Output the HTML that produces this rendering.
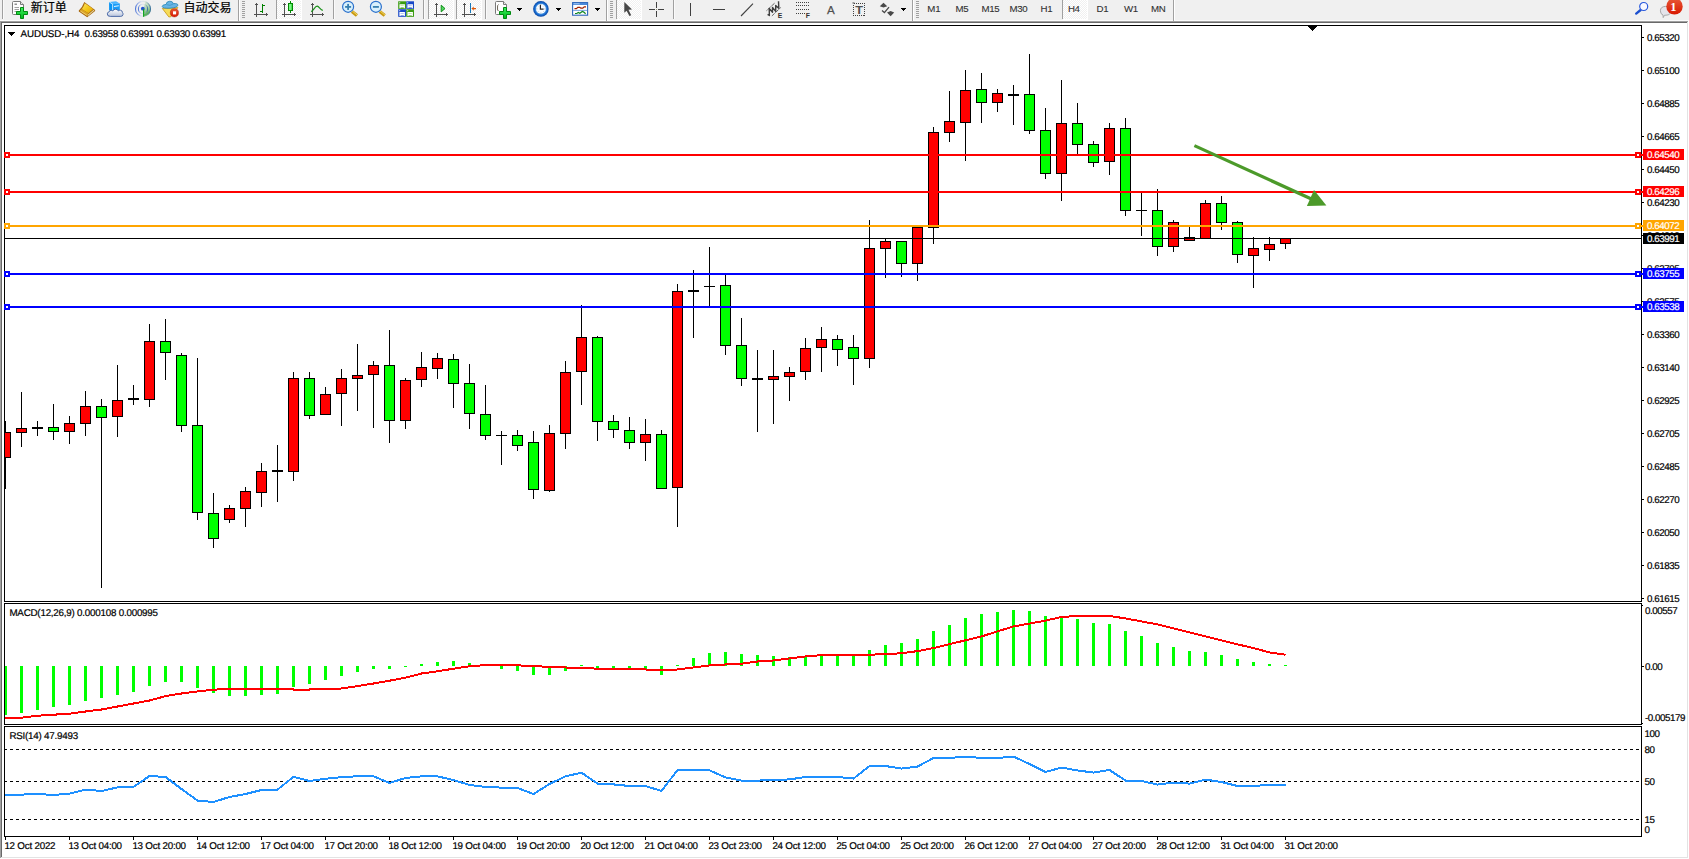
<!DOCTYPE html>
<html lang="zh-CN"><head><meta charset="utf-8"><title>AUDUSD-,H4</title>
<style>html,body{margin:0;padding:0;background:#f0f0f0;overflow:hidden}body{width:1689px;height:859px;position:relative;font-family:"Liberation Sans","Noto Sans CJK SC",sans-serif}svg{position:absolute;left:0;top:0;display:block}.t{font-family:"Liberation Sans",sans-serif;font-size:9.8px;letter-spacing:-0.45px;text-rendering:geometricPrecision;fill:#000;stroke:#000;stroke-width:.2px}.w{fill:#fff;stroke:#fff}.u{letter-spacing:-0.22px}.cj{font-family:"Liberation Sans","Noto Sans CJK SC",sans-serif;font-size:12px;fill:#000;stroke:#000;stroke-width:.2px}.tf{font-family:"Liberation Sans",sans-serif;font-size:9.7px;letter-spacing:-0.3px;fill:#303030;stroke:#303030;stroke-width:.1px}</style></head><body>
<svg width="1689" height="859" viewBox="0 0 1689 859">
<g shape-rendering="crispEdges">
<rect x="0" y="0" width="1689" height="859" fill="#f0f0f0"/>
<rect x="0" y="20" width="1689" height="1" fill="#fbfbfb"/>
<rect x="0" y="21" width="1689" height="1" fill="#a0a0a0"/>
<rect x="1" y="22" width="1688" height="1" fill="#696969"/>
<rect x="0" y="21" width="1" height="838" fill="#a0a0a0"/>
<rect x="1" y="22" width="1" height="836" fill="#696969"/>
<rect x="2" y="23" width="1685" height="834" fill="#ffffff"/>
<rect x="1687" y="22" width="1" height="836" fill="#e3e3e3"/>
<rect x="1" y="857" width="1687" height="1" fill="#e3e3e3"/>
<rect x="1688" y="21" width="1" height="838" fill="#ffffff"/>
<rect x="0" y="858" width="1689" height="1" fill="#ffffff"/>
</g>
<defs><clipPath id="cm"><rect x="5" y="26" width="1636" height="575"/></clipPath><clipPath id="c2"><rect x="5" y="604" width="1636" height="120"/></clipPath><clipPath id="c3"><rect x="5" y="727" width="1636" height="109"/></clipPath></defs>
<g shape-rendering="crispEdges">
<rect x="4" y="25" width="1638" height="1" fill="#000"/>
<rect x="4" y="601" width="1638" height="1" fill="#000"/>
<rect x="4" y="25" width="1" height="577" fill="#000"/>
<rect x="1641" y="25" width="1" height="577" fill="#000"/>
<rect x="4" y="603" width="1638" height="1" fill="#000"/>
<rect x="4" y="724" width="1638" height="1" fill="#000"/>
<rect x="4" y="603" width="1" height="122" fill="#000"/>
<rect x="1641" y="603" width="1" height="122" fill="#000"/>
<rect x="4" y="726" width="1638" height="1" fill="#000"/>
<rect x="4" y="836" width="1638" height="1" fill="#000"/>
<rect x="4" y="726" width="1" height="111" fill="#000"/>
<rect x="1641" y="726" width="1" height="111" fill="#000"/>
</g>
<g shape-rendering="crispEdges" clip-path="url(#cm)">
<rect x="5" y="421" width="1" height="68" fill="#000"/>
<rect x="0" y="432" width="11" height="26" fill="#000"/>
<rect x="1" y="433" width="9" height="24" fill="#ff0000"/>
<rect x="21" y="392" width="1" height="55" fill="#000"/>
<rect x="16" y="428" width="11" height="5" fill="#000"/>
<rect x="17" y="429" width="9" height="3" fill="#ff0000"/>
<rect x="37" y="421" width="1" height="15" fill="#000"/>
<rect x="32" y="427" width="11" height="2" fill="#000"/>
<rect x="53" y="404" width="1" height="36" fill="#000"/>
<rect x="48" y="427" width="11" height="5" fill="#000"/>
<rect x="49" y="428" width="9" height="3" fill="#00ff00"/>
<rect x="69" y="416" width="1" height="28" fill="#000"/>
<rect x="64" y="423" width="11" height="9" fill="#000"/>
<rect x="65" y="424" width="9" height="7" fill="#ff0000"/>
<rect x="85" y="391" width="1" height="45" fill="#000"/>
<rect x="80" y="406" width="11" height="18" fill="#000"/>
<rect x="81" y="407" width="9" height="16" fill="#ff0000"/>
<rect x="101" y="399" width="1" height="189" fill="#000"/>
<rect x="96" y="406" width="11" height="12" fill="#000"/>
<rect x="97" y="407" width="9" height="10" fill="#00ff00"/>
<rect x="117" y="365" width="1" height="72" fill="#000"/>
<rect x="112" y="400" width="11" height="17" fill="#000"/>
<rect x="113" y="401" width="9" height="15" fill="#ff0000"/>
<rect x="133" y="385" width="1" height="20" fill="#000"/>
<rect x="128" y="398" width="11" height="2" fill="#000"/>
<rect x="149" y="324" width="1" height="83" fill="#000"/>
<rect x="144" y="341" width="11" height="59" fill="#000"/>
<rect x="145" y="342" width="9" height="57" fill="#ff0000"/>
<rect x="165" y="319" width="1" height="61" fill="#000"/>
<rect x="160" y="341" width="11" height="12" fill="#000"/>
<rect x="161" y="342" width="9" height="10" fill="#00ff00"/>
<rect x="181" y="353" width="1" height="79" fill="#000"/>
<rect x="176" y="355" width="11" height="71" fill="#000"/>
<rect x="177" y="356" width="9" height="69" fill="#00ff00"/>
<rect x="197" y="358" width="1" height="162" fill="#000"/>
<rect x="192" y="425" width="11" height="88" fill="#000"/>
<rect x="193" y="426" width="9" height="86" fill="#00ff00"/>
<rect x="213" y="493" width="1" height="55" fill="#000"/>
<rect x="208" y="513" width="11" height="26" fill="#000"/>
<rect x="209" y="514" width="9" height="24" fill="#00ff00"/>
<rect x="229" y="505" width="1" height="18" fill="#000"/>
<rect x="224" y="508" width="11" height="12" fill="#000"/>
<rect x="225" y="509" width="9" height="10" fill="#ff0000"/>
<rect x="245" y="487" width="1" height="40" fill="#000"/>
<rect x="240" y="491" width="11" height="18" fill="#000"/>
<rect x="241" y="492" width="9" height="16" fill="#ff0000"/>
<rect x="261" y="463" width="1" height="44" fill="#000"/>
<rect x="256" y="471" width="11" height="22" fill="#000"/>
<rect x="257" y="472" width="9" height="20" fill="#ff0000"/>
<rect x="277" y="445" width="1" height="57" fill="#000"/>
<rect x="272" y="470" width="11" height="2" fill="#000"/>
<rect x="293" y="372" width="1" height="109" fill="#000"/>
<rect x="288" y="378" width="11" height="94" fill="#000"/>
<rect x="289" y="379" width="9" height="92" fill="#ff0000"/>
<rect x="309" y="372" width="1" height="47" fill="#000"/>
<rect x="304" y="378" width="11" height="38" fill="#000"/>
<rect x="305" y="379" width="9" height="36" fill="#00ff00"/>
<rect x="325" y="387" width="1" height="28" fill="#000"/>
<rect x="320" y="394" width="11" height="21" fill="#000"/>
<rect x="321" y="395" width="9" height="19" fill="#ff0000"/>
<rect x="341" y="369" width="1" height="57" fill="#000"/>
<rect x="336" y="378" width="11" height="16" fill="#000"/>
<rect x="337" y="379" width="9" height="14" fill="#ff0000"/>
<rect x="357" y="344" width="1" height="67" fill="#000"/>
<rect x="352" y="375" width="11" height="4" fill="#000"/>
<rect x="353" y="376" width="9" height="2" fill="#ff0000"/>
<rect x="373" y="361" width="1" height="67" fill="#000"/>
<rect x="368" y="365" width="11" height="10" fill="#000"/>
<rect x="369" y="366" width="9" height="8" fill="#ff0000"/>
<rect x="389" y="330" width="1" height="113" fill="#000"/>
<rect x="384" y="365" width="11" height="56" fill="#000"/>
<rect x="385" y="366" width="9" height="54" fill="#00ff00"/>
<rect x="405" y="378" width="1" height="51" fill="#000"/>
<rect x="400" y="380" width="11" height="41" fill="#000"/>
<rect x="401" y="381" width="9" height="39" fill="#ff0000"/>
<rect x="421" y="352" width="1" height="35" fill="#000"/>
<rect x="416" y="367" width="11" height="13" fill="#000"/>
<rect x="417" y="368" width="9" height="11" fill="#ff0000"/>
<rect x="437" y="353" width="1" height="26" fill="#000"/>
<rect x="432" y="358" width="11" height="11" fill="#000"/>
<rect x="433" y="359" width="9" height="9" fill="#ff0000"/>
<rect x="453" y="354" width="1" height="54" fill="#000"/>
<rect x="448" y="359" width="11" height="25" fill="#000"/>
<rect x="449" y="360" width="9" height="23" fill="#00ff00"/>
<rect x="469" y="364" width="1" height="65" fill="#000"/>
<rect x="464" y="383" width="11" height="31" fill="#000"/>
<rect x="465" y="384" width="9" height="29" fill="#00ff00"/>
<rect x="485" y="385" width="1" height="55" fill="#000"/>
<rect x="480" y="414" width="11" height="22" fill="#000"/>
<rect x="481" y="415" width="9" height="20" fill="#00ff00"/>
<rect x="501" y="431" width="1" height="34" fill="#000"/>
<rect x="496" y="435" width="11" height="1" fill="#000"/>
<rect x="517" y="430" width="1" height="21" fill="#000"/>
<rect x="512" y="435" width="11" height="11" fill="#000"/>
<rect x="513" y="436" width="9" height="9" fill="#00ff00"/>
<rect x="533" y="431" width="1" height="68" fill="#000"/>
<rect x="528" y="442" width="11" height="48" fill="#000"/>
<rect x="529" y="443" width="9" height="46" fill="#00ff00"/>
<rect x="549" y="425" width="1" height="67" fill="#000"/>
<rect x="544" y="433" width="11" height="58" fill="#000"/>
<rect x="545" y="434" width="9" height="56" fill="#ff0000"/>
<rect x="565" y="361" width="1" height="88" fill="#000"/>
<rect x="560" y="372" width="11" height="62" fill="#000"/>
<rect x="561" y="373" width="9" height="60" fill="#ff0000"/>
<rect x="581" y="305" width="1" height="100" fill="#000"/>
<rect x="576" y="337" width="11" height="35" fill="#000"/>
<rect x="577" y="338" width="9" height="33" fill="#ff0000"/>
<rect x="597" y="336" width="1" height="105" fill="#000"/>
<rect x="592" y="337" width="11" height="85" fill="#000"/>
<rect x="593" y="338" width="9" height="83" fill="#00ff00"/>
<rect x="613" y="415" width="1" height="23" fill="#000"/>
<rect x="608" y="421" width="11" height="9" fill="#000"/>
<rect x="609" y="422" width="9" height="7" fill="#00ff00"/>
<rect x="629" y="417" width="1" height="32" fill="#000"/>
<rect x="624" y="430" width="11" height="13" fill="#000"/>
<rect x="625" y="431" width="9" height="11" fill="#00ff00"/>
<rect x="645" y="419" width="1" height="42" fill="#000"/>
<rect x="640" y="434" width="11" height="9" fill="#000"/>
<rect x="641" y="435" width="9" height="7" fill="#ff0000"/>
<rect x="661" y="430" width="1" height="59" fill="#000"/>
<rect x="656" y="434" width="11" height="55" fill="#000"/>
<rect x="657" y="435" width="9" height="53" fill="#00ff00"/>
<rect x="677" y="284" width="1" height="243" fill="#000"/>
<rect x="672" y="291" width="11" height="197" fill="#000"/>
<rect x="673" y="292" width="9" height="195" fill="#ff0000"/>
<rect x="693" y="270" width="1" height="68" fill="#000"/>
<rect x="688" y="290" width="11" height="2" fill="#000"/>
<rect x="709" y="247" width="1" height="60" fill="#000"/>
<rect x="704" y="286" width="11" height="1" fill="#000"/>
<rect x="725" y="275" width="1" height="80" fill="#000"/>
<rect x="720" y="285" width="11" height="61" fill="#000"/>
<rect x="721" y="286" width="9" height="59" fill="#00ff00"/>
<rect x="741" y="318" width="1" height="68" fill="#000"/>
<rect x="736" y="345" width="11" height="34" fill="#000"/>
<rect x="737" y="346" width="9" height="32" fill="#00ff00"/>
<rect x="757" y="350" width="1" height="82" fill="#000"/>
<rect x="752" y="378" width="11" height="2" fill="#000"/>
<rect x="773" y="350" width="1" height="74" fill="#000"/>
<rect x="768" y="376" width="11" height="4" fill="#000"/>
<rect x="769" y="377" width="9" height="2" fill="#ff0000"/>
<rect x="789" y="367" width="1" height="34" fill="#000"/>
<rect x="784" y="372" width="11" height="5" fill="#000"/>
<rect x="785" y="373" width="9" height="3" fill="#ff0000"/>
<rect x="805" y="338" width="1" height="42" fill="#000"/>
<rect x="800" y="348" width="11" height="24" fill="#000"/>
<rect x="801" y="349" width="9" height="22" fill="#ff0000"/>
<rect x="821" y="327" width="1" height="45" fill="#000"/>
<rect x="816" y="339" width="11" height="9" fill="#000"/>
<rect x="817" y="340" width="9" height="7" fill="#ff0000"/>
<rect x="837" y="335" width="1" height="31" fill="#000"/>
<rect x="832" y="339" width="11" height="11" fill="#000"/>
<rect x="833" y="340" width="9" height="9" fill="#00ff00"/>
<rect x="853" y="335" width="1" height="50" fill="#000"/>
<rect x="848" y="347" width="11" height="12" fill="#000"/>
<rect x="849" y="348" width="9" height="10" fill="#00ff00"/>
<rect x="869" y="220" width="1" height="148" fill="#000"/>
<rect x="864" y="248" width="11" height="111" fill="#000"/>
<rect x="865" y="249" width="9" height="109" fill="#ff0000"/>
<rect x="885" y="238" width="1" height="40" fill="#000"/>
<rect x="880" y="241" width="11" height="8" fill="#000"/>
<rect x="881" y="242" width="9" height="6" fill="#ff0000"/>
<rect x="901" y="241" width="1" height="36" fill="#000"/>
<rect x="896" y="241" width="11" height="23" fill="#000"/>
<rect x="897" y="242" width="9" height="21" fill="#00ff00"/>
<rect x="917" y="227" width="1" height="54" fill="#000"/>
<rect x="912" y="227" width="11" height="37" fill="#000"/>
<rect x="913" y="228" width="9" height="35" fill="#ff0000"/>
<rect x="933" y="127" width="1" height="117" fill="#000"/>
<rect x="928" y="132" width="11" height="96" fill="#000"/>
<rect x="929" y="133" width="9" height="94" fill="#ff0000"/>
<rect x="949" y="91" width="1" height="51" fill="#000"/>
<rect x="944" y="121" width="11" height="12" fill="#000"/>
<rect x="945" y="122" width="9" height="10" fill="#ff0000"/>
<rect x="965" y="70" width="1" height="91" fill="#000"/>
<rect x="960" y="90" width="11" height="33" fill="#000"/>
<rect x="961" y="91" width="9" height="31" fill="#ff0000"/>
<rect x="981" y="73" width="1" height="50" fill="#000"/>
<rect x="976" y="89" width="11" height="14" fill="#000"/>
<rect x="977" y="90" width="9" height="12" fill="#00ff00"/>
<rect x="997" y="89" width="1" height="23" fill="#000"/>
<rect x="992" y="93" width="11" height="10" fill="#000"/>
<rect x="993" y="94" width="9" height="8" fill="#ff0000"/>
<rect x="1013" y="85" width="1" height="40" fill="#000"/>
<rect x="1008" y="94" width="11" height="2" fill="#000"/>
<rect x="1029" y="54" width="1" height="80" fill="#000"/>
<rect x="1024" y="94" width="11" height="37" fill="#000"/>
<rect x="1025" y="95" width="9" height="35" fill="#00ff00"/>
<rect x="1045" y="108" width="1" height="71" fill="#000"/>
<rect x="1040" y="130" width="11" height="44" fill="#000"/>
<rect x="1041" y="131" width="9" height="42" fill="#00ff00"/>
<rect x="1061" y="80" width="1" height="121" fill="#000"/>
<rect x="1056" y="123" width="11" height="51" fill="#000"/>
<rect x="1057" y="124" width="9" height="49" fill="#ff0000"/>
<rect x="1077" y="103" width="1" height="51" fill="#000"/>
<rect x="1072" y="123" width="11" height="22" fill="#000"/>
<rect x="1073" y="124" width="9" height="20" fill="#00ff00"/>
<rect x="1093" y="141" width="1" height="26" fill="#000"/>
<rect x="1088" y="144" width="11" height="19" fill="#000"/>
<rect x="1089" y="145" width="9" height="17" fill="#00ff00"/>
<rect x="1109" y="123" width="1" height="52" fill="#000"/>
<rect x="1104" y="128" width="11" height="34" fill="#000"/>
<rect x="1105" y="129" width="9" height="32" fill="#ff0000"/>
<rect x="1125" y="118" width="1" height="98" fill="#000"/>
<rect x="1120" y="128" width="11" height="83" fill="#000"/>
<rect x="1121" y="129" width="9" height="81" fill="#00ff00"/>
<rect x="1141" y="193" width="1" height="43" fill="#000"/>
<rect x="1136" y="210" width="11" height="1" fill="#000"/>
<rect x="1157" y="189" width="1" height="67" fill="#000"/>
<rect x="1152" y="210" width="11" height="37" fill="#000"/>
<rect x="1153" y="211" width="9" height="35" fill="#00ff00"/>
<rect x="1173" y="220" width="1" height="32" fill="#000"/>
<rect x="1168" y="222" width="11" height="25" fill="#000"/>
<rect x="1169" y="223" width="9" height="23" fill="#ff0000"/>
<rect x="1189" y="227" width="1" height="14" fill="#000"/>
<rect x="1184" y="237" width="11" height="4" fill="#000"/>
<rect x="1185" y="238" width="9" height="2" fill="#ff0000"/>
<rect x="1205" y="200" width="1" height="39" fill="#000"/>
<rect x="1200" y="203" width="11" height="36" fill="#000"/>
<rect x="1201" y="204" width="9" height="34" fill="#ff0000"/>
<rect x="1221" y="196" width="1" height="34" fill="#000"/>
<rect x="1216" y="203" width="11" height="20" fill="#000"/>
<rect x="1217" y="204" width="9" height="18" fill="#00ff00"/>
<rect x="1237" y="221" width="1" height="42" fill="#000"/>
<rect x="1232" y="222" width="11" height="33" fill="#000"/>
<rect x="1233" y="223" width="9" height="31" fill="#00ff00"/>
<rect x="1253" y="237" width="1" height="51" fill="#000"/>
<rect x="1248" y="248" width="11" height="8" fill="#000"/>
<rect x="1249" y="249" width="9" height="6" fill="#ff0000"/>
<rect x="1269" y="237" width="1" height="24" fill="#000"/>
<rect x="1264" y="244" width="11" height="6" fill="#000"/>
<rect x="1265" y="245" width="9" height="4" fill="#ff0000"/>
<rect x="1285" y="238" width="1" height="11" fill="#000"/>
<rect x="1280" y="238" width="11" height="6" fill="#000"/>
<rect x="1281" y="239" width="9" height="4" fill="#ff0000"/>
<rect x="5" y="238" width="1636" height="1" fill="#000"/>
<rect x="5" y="154" width="1636" height="2" fill="#ff0000"/>
<rect x="5" y="191" width="1636" height="2" fill="#ff0000"/>
<rect x="5" y="225" width="1636" height="2" fill="#ffa500"/>
<rect x="5" y="273" width="1636" height="2" fill="#0000ff"/>
<rect x="5" y="306" width="1636" height="2" fill="#0000ff"/>
</g>
<g shape-rendering="crispEdges">
<rect x="1641" y="154" width="2" height="2" fill="#ff0000"/>
<rect x="4" y="152" width="6" height="6" fill="#ff0000"/>
<rect x="6" y="154" width="2" height="2" fill="#fff"/>
<rect x="1635" y="152" width="6" height="6" fill="#ff0000"/>
<rect x="1637" y="154" width="2" height="2" fill="#fff"/>
<rect x="1641" y="191" width="2" height="2" fill="#ff0000"/>
<rect x="4" y="189" width="6" height="6" fill="#ff0000"/>
<rect x="6" y="191" width="2" height="2" fill="#fff"/>
<rect x="1635" y="189" width="6" height="6" fill="#ff0000"/>
<rect x="1637" y="191" width="2" height="2" fill="#fff"/>
<rect x="1641" y="225" width="2" height="2" fill="#ffa500"/>
<rect x="4" y="223" width="6" height="6" fill="#ffa500"/>
<rect x="6" y="225" width="2" height="2" fill="#fff"/>
<rect x="1635" y="223" width="6" height="6" fill="#ffa500"/>
<rect x="1637" y="225" width="2" height="2" fill="#fff"/>
<rect x="1641" y="273" width="2" height="2" fill="#0000ff"/>
<rect x="4" y="271" width="6" height="6" fill="#0000ff"/>
<rect x="6" y="273" width="2" height="2" fill="#fff"/>
<rect x="1635" y="271" width="6" height="6" fill="#0000ff"/>
<rect x="1637" y="273" width="2" height="2" fill="#fff"/>
<rect x="1641" y="306" width="2" height="2" fill="#0000ff"/>
<rect x="4" y="304" width="6" height="6" fill="#0000ff"/>
<rect x="6" y="306" width="2" height="2" fill="#fff"/>
<rect x="1635" y="304" width="6" height="6" fill="#0000ff"/>
<rect x="1637" y="306" width="2" height="2" fill="#fff"/>
</g>
<g shape-rendering="crispEdges">
<rect x="1308" y="26" width="9" height="1" fill="#000"/>
<rect x="1309" y="27" width="7" height="1" fill="#000"/>
<rect x="1310" y="28" width="5" height="1" fill="#000"/>
<rect x="1311" y="29" width="3" height="1" fill="#000"/>
<rect x="1312" y="30" width="1" height="1" fill="#000"/>
</g>
<line x1="1194.4" y1="145.6" x2="1312" y2="199.3" stroke="#4c9a2a" stroke-width="3.2"/>
<polygon points="1314,190 1326.4,205.5 1306.9,206" fill="#4c9a2a"/>
<g shape-rendering="crispEdges">
<rect x="1642" y="37" width="2" height="1" fill="#000"/>
<rect x="1642" y="70" width="2" height="1" fill="#000"/>
<rect x="1642" y="103" width="2" height="1" fill="#000"/>
<rect x="1642" y="136" width="2" height="1" fill="#000"/>
<rect x="1642" y="169" width="2" height="1" fill="#000"/>
<rect x="1642" y="202" width="2" height="1" fill="#000"/>
<rect x="1642" y="235" width="2" height="1" fill="#000"/>
<rect x="1642" y="268" width="2" height="1" fill="#000"/>
<rect x="1642" y="301" width="2" height="1" fill="#000"/>
<rect x="1642" y="334" width="2" height="1" fill="#000"/>
<rect x="1642" y="367" width="2" height="1" fill="#000"/>
<rect x="1642" y="400" width="2" height="1" fill="#000"/>
<rect x="1642" y="433" width="2" height="1" fill="#000"/>
<rect x="1642" y="466" width="2" height="1" fill="#000"/>
<rect x="1642" y="499" width="2" height="1" fill="#000"/>
<rect x="1642" y="532" width="2" height="1" fill="#000"/>
<rect x="1642" y="565" width="2" height="1" fill="#000"/>
<rect x="1642" y="598" width="2" height="1" fill="#000"/>
</g>
<text class="t" x="1647" y="41">0.65320</text>
<text class="t" x="1647" y="74">0.65100</text>
<text class="t" x="1647" y="107">0.64885</text>
<text class="t" x="1647" y="140">0.64665</text>
<text class="t" x="1647" y="173">0.64450</text>
<text class="t" x="1647" y="206">0.64230</text>
<text class="t" x="1647" y="239">0.64010</text>
<text class="t" x="1647" y="272">0.63795</text>
<text class="t" x="1647" y="305">0.63575</text>
<text class="t" x="1647" y="338">0.63360</text>
<text class="t" x="1647" y="371">0.63140</text>
<text class="t" x="1647" y="404">0.62925</text>
<text class="t" x="1647" y="437">0.62705</text>
<text class="t" x="1647" y="470">0.62485</text>
<text class="t" x="1647" y="503">0.62270</text>
<text class="t" x="1647" y="536">0.62050</text>
<text class="t" x="1647" y="569">0.61835</text>
<text class="t" x="1647" y="602">0.61615</text>
<g shape-rendering="crispEdges">
<rect x="1643" y="149" width="41" height="11" fill="#ff0000"/>
<rect x="1643" y="186" width="41" height="11" fill="#ff0000"/>
<rect x="1643" y="220" width="41" height="11" fill="#ffa500"/>
<rect x="1643" y="268" width="41" height="11" fill="#0000ff"/>
<rect x="1643" y="301" width="41" height="11" fill="#0000ff"/>
<rect x="1643" y="233" width="41" height="11" fill="#000000"/>
</g>
<text class="t w" x="1647" y="158">0.64540</text>
<text class="t w" x="1647" y="195">0.64296</text>
<text class="t w" x="1647" y="229">0.64072</text>
<text class="t w" x="1647" y="277">0.63755</text>
<text class="t w" x="1647" y="310">0.63538</text>
<text class="t w" x="1647" y="242">0.63991</text>
<g shape-rendering="crispEdges">
<rect x="8" y="32" width="7" height="1" fill="#000"/>
<rect x="9" y="33" width="5" height="1" fill="#000"/>
<rect x="10" y="34" width="3" height="1" fill="#000"/>
<rect x="11" y="35" width="1" height="1" fill="#000"/>
</g>
<text class="t u" x="20.5" y="37" textLength="58.8" lengthAdjust="spacing">AUDUSD-,H4</text>
<text class="t u" x="84.6" y="37" textLength="141.4" lengthAdjust="spacing">0.63958 0.63991 0.63930 0.63991</text>
<g shape-rendering="crispEdges" clip-path="url(#c2)">
<rect x="4" y="666" width="3" height="49" fill="#00ff00"/>
<rect x="20" y="666" width="3" height="47" fill="#00ff00"/>
<rect x="36" y="666" width="3" height="44" fill="#00ff00"/>
<rect x="52" y="666" width="3" height="41" fill="#00ff00"/>
<rect x="68" y="666" width="3" height="39" fill="#00ff00"/>
<rect x="84" y="666" width="3" height="35" fill="#00ff00"/>
<rect x="100" y="666" width="3" height="32" fill="#00ff00"/>
<rect x="116" y="666" width="3" height="29" fill="#00ff00"/>
<rect x="132" y="666" width="3" height="26" fill="#00ff00"/>
<rect x="148" y="666" width="3" height="20" fill="#00ff00"/>
<rect x="164" y="666" width="3" height="16" fill="#00ff00"/>
<rect x="180" y="666" width="3" height="16" fill="#00ff00"/>
<rect x="196" y="666" width="3" height="22" fill="#00ff00"/>
<rect x="212" y="666" width="3" height="27" fill="#00ff00"/>
<rect x="228" y="666" width="3" height="30" fill="#00ff00"/>
<rect x="244" y="666" width="3" height="30" fill="#00ff00"/>
<rect x="260" y="666" width="3" height="29" fill="#00ff00"/>
<rect x="276" y="666" width="3" height="28" fill="#00ff00"/>
<rect x="292" y="666" width="3" height="21" fill="#00ff00"/>
<rect x="308" y="666" width="3" height="18" fill="#00ff00"/>
<rect x="324" y="666" width="3" height="14" fill="#00ff00"/>
<rect x="340" y="666" width="3" height="10" fill="#00ff00"/>
<rect x="356" y="666" width="3" height="6" fill="#00ff00"/>
<rect x="372" y="666" width="3" height="3" fill="#00ff00"/>
<rect x="388" y="666" width="3" height="3" fill="#00ff00"/>
<rect x="404" y="666" width="3" height="1" fill="#00ff00"/>
<rect x="420" y="664" width="3" height="2" fill="#00ff00"/>
<rect x="436" y="662" width="3" height="4" fill="#00ff00"/>
<rect x="452" y="661" width="3" height="5" fill="#00ff00"/>
<rect x="468" y="663" width="3" height="3" fill="#00ff00"/>
<rect x="484" y="665" width="3" height="1" fill="#00ff00"/>
<rect x="500" y="666" width="3" height="3" fill="#00ff00"/>
<rect x="516" y="666" width="3" height="5" fill="#00ff00"/>
<rect x="532" y="666" width="3" height="9" fill="#00ff00"/>
<rect x="548" y="666" width="3" height="9" fill="#00ff00"/>
<rect x="564" y="666" width="3" height="5" fill="#00ff00"/>
<rect x="580" y="665" width="3" height="1" fill="#00ff00"/>
<rect x="596" y="666" width="3" height="2" fill="#00ff00"/>
<rect x="612" y="666" width="3" height="3" fill="#00ff00"/>
<rect x="628" y="666" width="3" height="3" fill="#00ff00"/>
<rect x="644" y="666" width="3" height="4" fill="#00ff00"/>
<rect x="660" y="666" width="3" height="9" fill="#00ff00"/>
<rect x="676" y="665" width="3" height="1" fill="#00ff00"/>
<rect x="692" y="658" width="3" height="8" fill="#00ff00"/>
<rect x="708" y="653" width="3" height="13" fill="#00ff00"/>
<rect x="724" y="652" width="3" height="14" fill="#00ff00"/>
<rect x="740" y="654" width="3" height="12" fill="#00ff00"/>
<rect x="756" y="655" width="3" height="11" fill="#00ff00"/>
<rect x="772" y="656" width="3" height="10" fill="#00ff00"/>
<rect x="788" y="657" width="3" height="9" fill="#00ff00"/>
<rect x="804" y="657" width="3" height="9" fill="#00ff00"/>
<rect x="820" y="656" width="3" height="10" fill="#00ff00"/>
<rect x="836" y="655" width="3" height="11" fill="#00ff00"/>
<rect x="852" y="655" width="3" height="11" fill="#00ff00"/>
<rect x="868" y="650" width="3" height="16" fill="#00ff00"/>
<rect x="884" y="645" width="3" height="21" fill="#00ff00"/>
<rect x="900" y="643" width="3" height="23" fill="#00ff00"/>
<rect x="916" y="639" width="3" height="27" fill="#00ff00"/>
<rect x="932" y="631" width="3" height="35" fill="#00ff00"/>
<rect x="948" y="625" width="3" height="41" fill="#00ff00"/>
<rect x="964" y="618" width="3" height="48" fill="#00ff00"/>
<rect x="980" y="614" width="3" height="52" fill="#00ff00"/>
<rect x="996" y="612" width="3" height="54" fill="#00ff00"/>
<rect x="1012" y="610" width="3" height="56" fill="#00ff00"/>
<rect x="1028" y="611" width="3" height="55" fill="#00ff00"/>
<rect x="1044" y="616" width="3" height="50" fill="#00ff00"/>
<rect x="1060" y="618" width="3" height="48" fill="#00ff00"/>
<rect x="1076" y="619" width="3" height="47" fill="#00ff00"/>
<rect x="1092" y="623" width="3" height="43" fill="#00ff00"/>
<rect x="1108" y="624" width="3" height="42" fill="#00ff00"/>
<rect x="1124" y="631" width="3" height="35" fill="#00ff00"/>
<rect x="1140" y="636" width="3" height="30" fill="#00ff00"/>
<rect x="1156" y="643" width="3" height="23" fill="#00ff00"/>
<rect x="1172" y="647" width="3" height="19" fill="#00ff00"/>
<rect x="1188" y="651" width="3" height="15" fill="#00ff00"/>
<rect x="1204" y="652" width="3" height="14" fill="#00ff00"/>
<rect x="1220" y="655" width="3" height="11" fill="#00ff00"/>
<rect x="1236" y="659" width="3" height="7" fill="#00ff00"/>
<rect x="1252" y="662" width="3" height="4" fill="#00ff00"/>
<rect x="1268" y="664" width="3" height="2" fill="#00ff00"/>
<rect x="1284" y="665" width="3" height="1" fill="#00ff00"/>
<polyline points="5.5,717.8 21.5,717.7 37.5,715.7 53.5,714.7 69.5,713.7 85.5,711.5 101.5,709.5 117.5,706.5 133.5,703.5 149.5,700.5 165.5,696.1 181.5,693.5 197.5,691.5 213.5,689.7 229.5,688.9 245.5,688.9 261.5,688.9 277.5,688.9 293.5,689.5 309.5,689.5 325.5,689.0 341.5,688.5 357.5,686.1 373.5,683.5 389.5,680.7 405.5,677.7 421.5,673.5 437.5,671.3 453.5,668.7 469.5,666.3 485.5,665.1 501.5,664.9 517.5,665.3 533.5,666.3 549.5,666.7 565.5,667.5 581.5,667.9 597.5,668.7 613.5,668.7 629.5,668.7 645.5,669.5 661.5,669.9 677.5,669.5 693.5,667.5 709.5,665.5 725.5,664.5 741.5,663.7 757.5,661.5 773.5,660.5 789.5,658.5 805.5,656.5 821.5,655.1 837.5,654.7 853.5,654.7 869.5,654.7 885.5,654.1 901.5,653.3 917.5,651.1 933.5,648.1 949.5,644.1 965.5,640.3 981.5,636.4 997.5,631.4 1013.5,626.4 1029.5,623.6 1045.5,620.6 1061.5,617.0 1077.5,616.0 1093.5,615.6 1109.5,616.0 1125.5,618.4 1141.5,621.4 1157.5,624.4 1173.5,628.4 1189.5,632.4 1205.5,636.4 1221.5,640.4 1237.5,644.4 1253.5,648.0 1269.5,652.4 1285.5,654.7" fill="none" stroke="#ff0000" stroke-width="2"/>
</g>
<text class="t u" x="9.4" y="616">MACD(12,26,9) 0.000108 0.000995</text>
<g shape-rendering="crispEdges">
<rect x="1642" y="605" width="1" height="1" fill="#000"/>
<rect x="1642" y="666" width="2" height="1" fill="#000"/>
<rect x="1642" y="723" width="1" height="1" fill="#000"/>
</g>
<text class="t" x="1645" y="614">0.00557</text>
<text class="t" x="1645" y="670">0.00</text>
<text class="t" x="1645" y="721">-0.005179</text>
<g shape-rendering="crispEdges" clip-path="url(#c3)">
<line x1="5" y1="749.5" x2="1641" y2="749.5" stroke="#000" stroke-width="1" stroke-dasharray="3,3" stroke-dashoffset="1"/>
<line x1="5" y1="781.5" x2="1641" y2="781.5" stroke="#000" stroke-width="1" stroke-dasharray="3,3" stroke-dashoffset="1"/>
<line x1="5" y1="819.5" x2="1641" y2="819.5" stroke="#000" stroke-width="1" stroke-dasharray="3,3" stroke-dashoffset="1"/>
<polyline points="5.5,795.0 21.5,794.6 37.5,794.0 53.5,795.0 69.5,793.6 85.5,789.6 101.5,791.0 117.5,787.4 133.5,786.8 149.5,776.0 165.5,777.0 181.5,789.0 197.5,800.6 213.5,802.0 229.5,797.0 245.5,794.0 261.5,790.0 277.5,789.6 293.5,776.8 309.5,781.0 325.5,778.8 341.5,777.2 357.5,776.2 373.5,776.2 389.5,783.0 405.5,778.0 421.5,776.4 437.5,776.4 453.5,780.0 469.5,785.0 485.5,787.0 501.5,787.6 517.5,788.0 533.5,794.0 549.5,784.0 565.5,776.4 581.5,772.6 597.5,783.6 613.5,784.4 629.5,786.0 645.5,786.0 661.5,791.0 677.5,770.0 693.5,770.0 709.5,770.4 725.5,777.4 741.5,780.6 757.5,780.6 773.5,780.0 789.5,779.4 805.5,777.0 821.5,777.0 837.5,777.0 853.5,778.6 869.5,766.0 885.5,766.0 901.5,768.6 917.5,766.6 933.5,758.0 949.5,758.0 965.5,756.6 981.5,758.0 997.5,758.0 1013.5,756.6 1029.5,764.0 1045.5,772.0 1061.5,767.6 1077.5,770.4 1093.5,772.6 1109.5,770.0 1125.5,780.6 1141.5,781.0 1157.5,784.6 1173.5,782.6 1189.5,783.6 1205.5,779.6 1221.5,782.0 1237.5,786.0 1253.5,786.0 1269.5,784.8 1285.5,784.8" fill="none" stroke="#1e90ff" stroke-width="2"/>
</g>
<text class="t u" x="9.4" y="739">RSI(14) 47.9493</text>
<text class="t" x="1644.5" y="737">100</text>
<text class="t" x="1644.5" y="753">80</text>
<text class="t" x="1644.5" y="785">50</text>
<text class="t" x="1644.5" y="823">15</text>
<text class="t" x="1644.5" y="833">0</text>
<g shape-rendering="crispEdges">
<rect x="5" y="837" width="1" height="3" fill="#000"/>
<rect x="69" y="837" width="1" height="3" fill="#000"/>
<rect x="133" y="837" width="1" height="3" fill="#000"/>
<rect x="197" y="837" width="1" height="3" fill="#000"/>
<rect x="261" y="837" width="1" height="3" fill="#000"/>
<rect x="325" y="837" width="1" height="3" fill="#000"/>
<rect x="389" y="837" width="1" height="3" fill="#000"/>
<rect x="453" y="837" width="1" height="3" fill="#000"/>
<rect x="517" y="837" width="1" height="3" fill="#000"/>
<rect x="581" y="837" width="1" height="3" fill="#000"/>
<rect x="645" y="837" width="1" height="3" fill="#000"/>
<rect x="709" y="837" width="1" height="3" fill="#000"/>
<rect x="773" y="837" width="1" height="3" fill="#000"/>
<rect x="837" y="837" width="1" height="3" fill="#000"/>
<rect x="901" y="837" width="1" height="3" fill="#000"/>
<rect x="965" y="837" width="1" height="3" fill="#000"/>
<rect x="1029" y="837" width="1" height="3" fill="#000"/>
<rect x="1093" y="837" width="1" height="3" fill="#000"/>
<rect x="1157" y="837" width="1" height="3" fill="#000"/>
<rect x="1221" y="837" width="1" height="3" fill="#000"/>
<rect x="1285" y="837" width="1" height="3" fill="#000"/>
</g>
<text class="t u" x="4.4" y="849">12 Oct 2022</text>
<text class="t u" x="68.4" y="849">13 Oct 04:00</text>
<text class="t u" x="132.4" y="849">13 Oct 20:00</text>
<text class="t u" x="196.4" y="849">14 Oct 12:00</text>
<text class="t u" x="260.4" y="849">17 Oct 04:00</text>
<text class="t u" x="324.4" y="849">17 Oct 20:00</text>
<text class="t u" x="388.4" y="849">18 Oct 12:00</text>
<text class="t u" x="452.4" y="849">19 Oct 04:00</text>
<text class="t u" x="516.4" y="849">19 Oct 20:00</text>
<text class="t u" x="580.4" y="849">20 Oct 12:00</text>
<text class="t u" x="644.4" y="849">21 Oct 04:00</text>
<text class="t u" x="708.4" y="849">23 Oct 23:00</text>
<text class="t u" x="772.4" y="849">24 Oct 12:00</text>
<text class="t u" x="836.4" y="849">25 Oct 04:00</text>
<text class="t u" x="900.4" y="849">25 Oct 20:00</text>
<text class="t u" x="964.4" y="849">26 Oct 12:00</text>
<text class="t u" x="1028.4" y="849">27 Oct 04:00</text>
<text class="t u" x="1092.4" y="849">27 Oct 20:00</text>
<text class="t u" x="1156.4" y="849">28 Oct 12:00</text>
<text class="t u" x="1220.4" y="849">31 Oct 04:00</text>
<text class="t u" x="1284.4" y="849">31 Oct 20:00</text>
<defs><pattern id="chk" width="2" height="2" patternUnits="userSpaceOnUse"><rect width="2" height="2" fill="#f0f0f0"/><rect width="1" height="1" fill="#fff"/><rect x="1" y="1" width="1" height="1" fill="#fff"/></pattern><linearGradient id="gpl" x1="0" y1="0" x2="0" y2="1"><stop offset="0" stop-color="#3cf060"/><stop offset="1" stop-color="#00b818"/></linearGradient><linearGradient id="gbk" x1="0" y1="0" x2="1" y2="1"><stop offset="0" stop-color="#fce468"/><stop offset="0.5" stop-color="#f4c818"/><stop offset="1" stop-color="#e0a010"/></linearGradient><linearGradient id="gsv" x1="0" y1="0" x2="0" y2="1"><stop offset="0" stop-color="#20a8ff"/><stop offset="1" stop-color="#0878e0"/></linearGradient><linearGradient id="gcl" x1="0" y1="0" x2="0" y2="1"><stop offset="0" stop-color="#ffffff"/><stop offset="1" stop-color="#b8c4dc"/></linearGradient><linearGradient id="grd" x1="0" y1="0" x2="0" y2="1"><stop offset="0" stop-color="#e85838"/><stop offset="1" stop-color="#d81800"/></linearGradient><linearGradient id="ggr" x1="0" y1="0" x2="1" y2="0"><stop offset="0" stop-color="#50e860"/><stop offset="0.4" stop-color="#90ff98"/><stop offset="1" stop-color="#18cc28"/></linearGradient><radialGradient id="gck" cx="0.5" cy="0.5" r="0.5"><stop offset="0.55" stop-color="#60b0f4"/><stop offset="0.8" stop-color="#1868cc"/><stop offset="1" stop-color="#0848a4"/></radialGradient><linearGradient id="ggo" x1="0" y1="0" x2="1" y2="0"><stop offset="0" stop-color="#f0d040"/><stop offset="1" stop-color="#b88008"/></linearGradient></defs>
<g shape-rendering="crispEdges">
<rect x="277" y="0" width="24" height="19" fill="url(#chk)"/>
<rect x="301" y="0" width="1" height="20" fill="#ffffff"/>
<rect x="277" y="19" width="24" height="1" fill="#ffffff"/>
<rect x="429" y="0" width="24" height="19" fill="url(#chk)"/>
<rect x="453" y="0" width="1" height="20" fill="#ffffff"/>
<rect x="429" y="19" width="24" height="1" fill="#ffffff"/>
<rect x="457" y="0" width="24" height="19" fill="url(#chk)"/>
<rect x="481" y="0" width="1" height="20" fill="#ffffff"/>
<rect x="457" y="19" width="24" height="1" fill="#ffffff"/>
<rect x="617" y="0" width="24" height="19" fill="url(#chk)"/>
<rect x="641" y="0" width="1" height="20" fill="#ffffff"/>
<rect x="617" y="19" width="24" height="1" fill="#ffffff"/>
<rect x="1063" y="0" width="24" height="19" fill="url(#chk)"/>
<rect x="1087" y="0" width="1" height="20" fill="#ffffff"/>
<rect x="1063" y="19" width="24" height="1" fill="#ffffff"/>
<rect x="2" y="0" width="1" height="19" fill="#a0a0a0"/>
<rect x="3" y="0" width="1" height="19" fill="#fafafa"/>
<rect x="276" y="0" width="1" height="19" fill="#a0a0a0"/>
<rect x="333" y="0" width="1" height="19" fill="#a0a0a0"/>
<rect x="334" y="0" width="1" height="19" fill="#fafafa"/>
<rect x="423" y="0" width="1" height="19" fill="#a0a0a0"/>
<rect x="424" y="0" width="1" height="19" fill="#fafafa"/>
<rect x="428" y="0" width="1" height="19" fill="#a0a0a0"/>
<rect x="456" y="0" width="1" height="19" fill="#a0a0a0"/>
<rect x="485" y="0" width="1" height="19" fill="#a0a0a0"/>
<rect x="486" y="0" width="1" height="19" fill="#fafafa"/>
<rect x="616" y="0" width="1" height="19" fill="#a0a0a0"/>
<rect x="673" y="0" width="1" height="19" fill="#a0a0a0"/>
<rect x="674" y="0" width="1" height="19" fill="#fafafa"/>
<rect x="1062" y="0" width="1" height="19" fill="#a0a0a0"/>
<rect x="238" y="0" width="1" height="21" fill="#a0a0a0"/>
<rect x="239" y="0" width="1" height="21" fill="#ffffff"/>
<rect x="606" y="0" width="1" height="21" fill="#a0a0a0"/>
<rect x="607" y="0" width="1" height="21" fill="#ffffff"/>
<rect x="912" y="0" width="1" height="21" fill="#a0a0a0"/>
<rect x="913" y="0" width="1" height="21" fill="#ffffff"/>
<rect x="1173" y="0" width="1" height="21" fill="#a0a0a0"/>
<rect x="1174" y="0" width="1" height="21" fill="#ffffff"/>
<rect x="242" y="1" width="3" height="1" fill="#a0a0a0"/>
<rect x="242" y="3" width="3" height="1" fill="#a0a0a0"/>
<rect x="242" y="5" width="3" height="1" fill="#a0a0a0"/>
<rect x="242" y="7" width="3" height="1" fill="#a0a0a0"/>
<rect x="242" y="9" width="3" height="1" fill="#a0a0a0"/>
<rect x="242" y="11" width="3" height="1" fill="#a0a0a0"/>
<rect x="242" y="13" width="3" height="1" fill="#a0a0a0"/>
<rect x="242" y="15" width="3" height="1" fill="#a0a0a0"/>
<rect x="242" y="17" width="3" height="1" fill="#a0a0a0"/>
<rect x="610" y="1" width="3" height="1" fill="#a0a0a0"/>
<rect x="610" y="3" width="3" height="1" fill="#a0a0a0"/>
<rect x="610" y="5" width="3" height="1" fill="#a0a0a0"/>
<rect x="610" y="7" width="3" height="1" fill="#a0a0a0"/>
<rect x="610" y="9" width="3" height="1" fill="#a0a0a0"/>
<rect x="610" y="11" width="3" height="1" fill="#a0a0a0"/>
<rect x="610" y="13" width="3" height="1" fill="#a0a0a0"/>
<rect x="610" y="15" width="3" height="1" fill="#a0a0a0"/>
<rect x="610" y="17" width="3" height="1" fill="#a0a0a0"/>
<rect x="916" y="1" width="3" height="1" fill="#a0a0a0"/>
<rect x="916" y="3" width="3" height="1" fill="#a0a0a0"/>
<rect x="916" y="5" width="3" height="1" fill="#a0a0a0"/>
<rect x="916" y="7" width="3" height="1" fill="#a0a0a0"/>
<rect x="916" y="9" width="3" height="1" fill="#a0a0a0"/>
<rect x="916" y="11" width="3" height="1" fill="#a0a0a0"/>
<rect x="916" y="13" width="3" height="1" fill="#a0a0a0"/>
<rect x="916" y="15" width="3" height="1" fill="#a0a0a0"/>
<rect x="916" y="17" width="3" height="1" fill="#a0a0a0"/>
</g>
<g transform="translate(12,1)">
<path d="M1.5,0.5 H8.5 L11.5,3.5 V13 Q11.5,13.5 11,13.5 H1.5 Q0.5,13.5 0.5,12.5 V1.5 Q0.5,0.5 1.5,0.5 Z" fill="#fdfdfd" stroke="#7a7a7a" stroke-width="1"/>
<path d="M8.5,0.5 V3.5 H11.5" fill="#e8e8e8" stroke="#7a7a7a" stroke-width="1"/>
<rect x="2.5" y="2.5" width="2.5" height="1.5" fill="#909090"/>
<g stroke="#a0a0a0" stroke-width="1"><line x1="2.5" y1="6.5" x2="7" y2="6.5"/><line x1="2.5" y1="8.5" x2="7" y2="8.5"/><line x1="2.5" y1="10.5" x2="5" y2="10.5"/></g>
<path d="M8.5,6.5 H11.5 V10.5 H15.5 V13.5 H11.5 V17.5 H8.5 V13.5 H4.5 V10.5 H8.5 Z" fill="url(#gpl)" stroke="#008a10" stroke-width="1"/>
</g>
<text class="cj" x="30.8" y="11.9">新订单</text>
<path d="M84.3,1.9 L95.1,9.9 L95.1,11.1 L87.2,17.2 L78.8,11.6 L78.8,10.5 Q82.4,7.2 84.3,1.9 Z" fill="#a8680e"/>
<path d="M79.8,10.9 L81.7,9.1 L88.3,13.6 L86.9,15.7 Z" fill="#dca424"/>
<path d="M80.4,11 L86.9,15.2" stroke="#f8e088" stroke-width="0.7" fill="none"/>
<path d="M84.8,3.2 L93.3,9 L88.4,13.3 L81.9,8.9 Q84,6.4 84.8,3.2 Z" fill="url(#gbk)"/>
<path d="M93.7,9.7 L94.4,10.6 L87.9,15.9 L87.4,15 Z" fill="#e4d8a0"/>
<path d="M109.1,1.9 L112.6,4 V10.4 H109.1 Z" fill="#0894f4"/>
<path d="M109.1,1.9 L116,1.2 L119.8,3.4 L112.6,4 Z" fill="#48b4ff"/>
<path d="M112.6,4 L119.8,3.4 V10.4 H112.6 Z" fill="#189cf8"/>
<path d="M109.6,2.3 L112.6,4.1 V10" stroke="#e0f4ff" stroke-width="0.7" fill="none"/>
<path d="M114,6.1 L118.8,5.3 V6.2 L114,7 Z" fill="#e8f8ff"/>
<path d="M110.3,16.4 Q107.2,16.4 107.3,13.9 Q107.4,12 109.2,11.8 Q109.6,10.3 111.2,10.4 Q112.2,10.4 112.8,11 Q113.6,9.2 115.5,9.2 Q117.5,9.2 118.3,10.9 Q119.2,10.1 120.4,10.2 Q122.4,10.5 122.4,12.4 Q123.2,13.2 123,14.6 Q122.8,16.4 120.6,16.4 Z" fill="url(#gcl)" stroke="#4060a0" stroke-width="0.9"/>
<defs><linearGradient id="gsg" x1="0" y1="0" x2="0.3" y2="1"><stop offset="0" stop-color="#d0e4d0" stop-opacity="0.5"/><stop offset="0.6" stop-color="#90c890" stop-opacity="0.8"/><stop offset="1" stop-color="#30a030"/></linearGradient><linearGradient id="gsr" x1="0" y1="0" x2="1" y2="0"><stop offset="0" stop-color="#2c5cd4"/><stop offset="0.4" stop-color="#c8d4f0" stop-opacity="0.6"/><stop offset="0.65" stop-color="#c0d8c8" stop-opacity="0.5"/><stop offset="1" stop-color="#28609c"/></linearGradient></defs>
<path d="M143.2,8.9 L145.5,1.6 A7.7,7.7 0 0 1 143.5,16.6 Z" fill="url(#gsg)"/>
<g fill="none" stroke="url(#gsr)" opacity="0.8"><circle cx="143" cy="8.9" r="7.5" stroke-width="1.1"/><circle cx="143" cy="8.9" r="4.6" stroke-width="1.1"/></g>
<circle cx="142.8" cy="8.7" r="1.9" fill="#2454cc"/>
<rect x="143" y="9" width="1.2" height="7.8" fill="#10a420"/>
<path d="M162.3,8.4 L177.9,7.6 L170.6,16.9 L168.8,16.9 Z" fill="#f6dc58" stroke="#c89414" stroke-width="0.8" stroke-linejoin="round"/>
<path d="M162.2,6.6 Q162,4.8 166,4.4 Q166.6,1.2 169.8,1.2 Q172.8,1.2 173.3,3.6 Q178,3.2 177.9,5.2 Q177.6,7.6 170,8.2 Q162.6,8.6 162.2,6.6 Z" fill="#68b4e4" stroke="#2484b4" stroke-width="0.8"/>
<path d="M166.6,4.6 Q170,6.4 173.2,4" stroke="#2c8cc0" stroke-width="0.6" fill="none"/>
<circle cx="174.4" cy="12.8" r="4.1" fill="url(#grd)" stroke="#b01800" stroke-width="0.5"/>
<rect x="173" y="11.3" width="3.1" height="3.1" fill="#fff"/>
<text class="cj" x="183.6" y="11.9">自动交易</text>
<g shape-rendering="crispEdges" fill="#505050">
<rect x="256" y="3" width="1" height="14" fill="#505050"/>
<rect x="255" y="4" width="3" height="1" fill="#505050"/>
<rect x="254" y="14" width="14" height="1" fill="#505050"/>
<rect x="266" y="13" width="1" height="3" fill="#505050"/>
</g>
<g shape-rendering="crispEdges">
<rect x="262" y="4" width="1" height="9" fill="#008000"/>
<rect x="263" y="5" width="2" height="1" fill="#008000"/>
<rect x="260" y="11" width="2" height="1" fill="#008000"/>
</g>
<g shape-rendering="crispEdges" fill="#505050">
<rect x="284" y="3" width="1" height="14" fill="#505050"/>
<rect x="283" y="4" width="3" height="1" fill="#505050"/>
<rect x="282" y="14" width="14" height="1" fill="#505050"/>
<rect x="294" y="13" width="1" height="3" fill="#505050"/>
</g>
<g shape-rendering="crispEdges">
<rect x="290" y="1" width="1" height="12" fill="#008800"/>
</g>
<rect x="288.5" y="3.5" width="4" height="7" fill="url(#ggr)" stroke="#008800" stroke-width="1" shape-rendering="crispEdges"/>
<g shape-rendering="crispEdges" fill="#505050">
<rect x="312" y="3" width="1" height="14" fill="#505050"/>
<rect x="311" y="4" width="3" height="1" fill="#505050"/>
<rect x="310" y="14" width="14" height="1" fill="#505050"/>
<rect x="322" y="13" width="1" height="3" fill="#505050"/>
</g>
<path d="M311.2,11.6 C313.5,10.6 315,6 317.2,6.2 C319,6.4 320.5,9.8 322.8,10.3" fill="none" stroke="#189018" stroke-width="1.2"/>
<line x1="351.90000000000003" y1="11.4" x2="356.90000000000003" y2="15.6" stroke="#c89810" stroke-width="3.2"/>
<line x1="352.3" y1="11" x2="357.1" y2="15" stroke="#f0d860" stroke-width="1"/>
<circle cx="348.1" cy="6.8" r="5.5" fill="#d8f0fc" stroke="#2a70cc" stroke-width="1.2"/>
<rect x="345.1" y="6" width="6" height="1.8" fill="#3880b0"/>
<rect x="347.20000000000005" y="3.9" width="1.8" height="6" fill="#3880b0"/>
<line x1="379.7" y1="11.4" x2="384.7" y2="15.6" stroke="#c89810" stroke-width="3.2"/>
<line x1="380.09999999999997" y1="11" x2="384.9" y2="15" stroke="#f0d860" stroke-width="1"/>
<circle cx="375.9" cy="6.8" r="5.5" fill="#d8f0fc" stroke="#2a70cc" stroke-width="1.2"/>
<rect x="372.9" y="6" width="6" height="1.8" fill="#3880b0"/>
<rect x="398.2" y="1.3" width="7.8" height="7.6" fill="#3a9c10"/>
<path d="M399.4,4.2 H404.9 V8.200000000000001 H403.8 V7.6 H400.5 V8.200000000000001 H399.4 Z" fill="#fff"/>
<rect x="400.4" y="5.3" width="3.4" height="0.8" fill="#b4e49c"/>
<rect x="399.2" y="2.3" width="1" height="1" fill="#e8f0ff"/>
<rect x="406.2" y="1.3" width="7.8" height="7.6" fill="#1848c8"/>
<path d="M407.4,4.2 H412.9 V8.200000000000001 H411.8 V7.6 H408.5 V8.200000000000001 H407.4 Z" fill="#fff"/>
<rect x="408.4" y="5.3" width="3.4" height="0.8" fill="#a4bcf4"/>
<rect x="407.2" y="2.3" width="1" height="1" fill="#e8f0ff"/>
<rect x="398.2" y="9.2" width="7.8" height="7.6" fill="#1848c8"/>
<path d="M399.4,12.1 H404.9 V16.1 H403.8 V15.5 H400.5 V16.1 H399.4 Z" fill="#fff"/>
<rect x="400.4" y="13.2" width="3.4" height="0.8" fill="#a4bcf4"/>
<rect x="399.2" y="10.2" width="1" height="1" fill="#e8f0ff"/>
<rect x="406.2" y="9.2" width="7.8" height="7.6" fill="#3a9c10"/>
<path d="M407.4,12.1 H412.9 V16.1 H411.8 V15.5 H408.5 V16.1 H407.4 Z" fill="#fff"/>
<rect x="408.4" y="13.2" width="3.4" height="0.8" fill="#b4e49c"/>
<rect x="407.2" y="10.2" width="1" height="1" fill="#e8f0ff"/>
<g shape-rendering="crispEdges" fill="#505050">
<rect x="436" y="3" width="1" height="14" fill="#505050"/>
<rect x="435" y="4" width="3" height="1" fill="#505050"/>
<rect x="434" y="14" width="14" height="1" fill="#505050"/>
<rect x="446" y="13" width="1" height="3" fill="#505050"/>
</g>
<path d="M441.2,5.2 L445,8.6 L441.2,11.8 Z" fill="#50d860" stroke="#109018" stroke-width="1"/>
<g shape-rendering="crispEdges" fill="#505050">
<rect x="464" y="3" width="1" height="14" fill="#505050"/>
<rect x="463" y="4" width="3" height="1" fill="#505050"/>
<rect x="462" y="14" width="14" height="1" fill="#505050"/>
<rect x="474" y="13" width="1" height="3" fill="#505050"/>
</g>
<g shape-rendering="crispEdges">
<rect x="470" y="3" width="1" height="10" fill="#1878b8"/>
</g>
<path d="M471.4,8.6 L474,6.4 L473.6,8 L476,8 L476,9.2 L473.6,9.2 L474,10.8 Z" fill="#e05808"/>
<g transform="translate(495,1)">
<path d="M1.5,0.5 H8.5 L11.5,3.5 V13 Q11.5,13.5 11,13.5 H1.5 Q0.5,13.5 0.5,12.5 V1.5 Q0.5,0.5 1.5,0.5 Z" fill="#fdfdfd" stroke="#7a7a7a" stroke-width="1"/>
<path d="M8.5,0.5 V3.5 H11.5" fill="#e8e8e8" stroke="#7a7a7a" stroke-width="1"/>
<path d="M8.5,6.5 H11.5 V10.5 H15.5 V13.5 H11.5 V17.5 H8.5 V13.5 H4.5 V10.5 H8.5 Z" fill="url(#gpl)" stroke="#008a10" stroke-width="1"/>
</g>
<path d="M498.5,4.5 Q497.2,5 497.5,8 Q497.2,10.5 498.5,11" fill="none" stroke="#605848" stroke-width="0.9"/>
<g shape-rendering="crispEdges">
<rect x="517" y="8" width="5" height="1" fill="#000"/>
<rect x="518" y="9" width="3" height="1" fill="#000"/>
<rect x="519" y="10" width="1" height="1" fill="#000"/>
<rect x="556" y="8" width="5" height="1" fill="#000"/>
<rect x="557" y="9" width="3" height="1" fill="#000"/>
<rect x="558" y="10" width="1" height="1" fill="#000"/>
<rect x="595" y="8" width="5" height="1" fill="#000"/>
<rect x="596" y="9" width="3" height="1" fill="#000"/>
<rect x="597" y="10" width="1" height="1" fill="#000"/>
<rect x="901" y="8" width="5" height="1" fill="#000"/>
<rect x="902" y="9" width="3" height="1" fill="#000"/>
<rect x="903" y="10" width="1" height="1" fill="#000"/>
</g>
<circle cx="540.9" cy="8.9" r="7.8" fill="url(#gck)"/>
<circle cx="540.9" cy="8.9" r="4.9" fill="#f8fbff"/>
<path d="M540.4,4.8 V9.2 H543.6" fill="none" stroke="#282828" stroke-width="1.2"/>
<path d="M537.6,12.2 L538.4,11.4 M544.2,12.2 L543.4,11.4 M537.6,5.6 L538.3,6.3 M544.2,5.6 L543.5,6.3" stroke="#a8b4c4" stroke-width="0.8" fill="none"/>
<g fill="#9aa8b8"><rect x="540.4" y="4.2" width="1" height="0.9"/><rect x="540.4" y="12.6" width="1" height="0.9"/><rect x="536.4" y="8.4" width="0.9" height="1"/><rect x="544.5" y="8.4" width="0.9" height="1"/></g>
<rect x="572.6" y="2.6" width="15" height="12.6" fill="#fff" stroke="#2c66bc" stroke-width="1.1"/>
<rect x="573" y="3" width="14.2" height="2" fill="#4a88d8"/>
<rect x="573.6" y="3.4" width="6" height="0.8" fill="#b8d8f8"/>
<rect x="573" y="9.9" width="14.2" height="0.9" fill="#6c9ce0"/>
<path d="M574.5,8.6 H576.4 L577.8,7.3 H579.8 L580.8,8.1 H582.8 L584.2,6.9 H586" fill="none" stroke="#a02000" stroke-width="1.2"/>
<path d="M575,13.5 H576.8 L578.3,12.5 L579.8,13.3 L582.3,11.5 L583.8,12.1 L585.6,13.8" fill="none" stroke="#108820" stroke-width="1.2"/>
<path d="M624.3,2 V12.8 L626.6,10.7 L629.4,16 L631.2,15.2 L628.5,9.8 L632,9.6 Z" fill="#484848"/>
<g shape-rendering="crispEdges">
<rect x="656" y="2" width="1" height="6" fill="#404040"/>
<rect x="656" y="11" width="1" height="6" fill="#404040"/>
<rect x="649" y="9" width="6" height="1" fill="#404040"/>
<rect x="658" y="9" width="6" height="1" fill="#404040"/>
<rect x="656" y="9" width="1" height="1" fill="#909070"/>
<rect x="690" y="3" width="1" height="13" fill="#404040"/>
<rect x="713" y="9" width="12" height="1" fill="#404040"/>
</g>
<line x1="741" y1="16" x2="753" y2="3.6" stroke="#404040" stroke-width="1.1"/>
<g stroke="#404040" fill="none"><line x1="766.6" y1="10.6" x2="774.9" y2="2.9" stroke-width="1" stroke-dasharray="1.2,0.6"/><line x1="771.9" y1="15.9" x2="781.1" y2="7.2" stroke-width="1" stroke-dasharray="1.2,0.6"/><polyline points="767.6,14.3 769.4,15.5 769.2,8.5 772.5,12.3 772.5,7.5 775.7,11.4 775.7,5.4 778.8,8.3 778.5,1.2" stroke-width="1.4" stroke-linejoin="round"/></g>
<text x="777.7" y="17.9" font-family="Liberation Sans, sans-serif" font-size="6.8" font-weight="bold" fill="#303030">E</text>
<g stroke="#404040" stroke-width="1" stroke-dasharray="1,1" shape-rendering="crispEdges"><line x1="796" y1="2.5" x2="809" y2="2.5"/><line x1="796" y1="5.5" x2="809" y2="5.5"/><line x1="796" y1="9.5" x2="809" y2="9.5"/><line x1="796" y1="13.5" x2="805" y2="13.5"/></g>
<text x="805.8" y="17.8" font-family="Liberation Sans, sans-serif" font-size="6.8" font-weight="bold" fill="#303030">F</text>
<text x="826.9" y="13.7" font-family="Liberation Sans, sans-serif" font-size="11.6" fill="#505050" stroke="#505050" stroke-width="0.25">A</text>
<rect x="853.5" y="3.5" width="11" height="12" fill="none" stroke="#404040" stroke-width="1" stroke-dasharray="1,1" shape-rendering="crispEdges"/>
<rect x="852.5" y="2.5" width="2" height="1" fill="#404040"/>
<text x="855.2" y="13.9" font-family="Liberation Sans, sans-serif" font-size="11" font-weight="bold" fill="#505050" textLength="7.8" lengthAdjust="spacingAndGlyphs">T</text>
<path d="M879.8,6.2 L883.5,2.8 L887.2,6.2 L883.5,7.6 Z" fill="#484848"/>
<path d="M887,12.4 L890.6,11 L894.2,12.4 L890.6,16.3 Z" fill="#484848"/>
<path d="M882,10.6 L884.4,12.6 L889,7.2" fill="none" stroke="#484848" stroke-width="1.3"/>
<text class="tf" x="933.8" y="12.3" text-anchor="middle">M1</text>
<text class="tf" x="962" y="12.3" text-anchor="middle">M5</text>
<text class="tf" x="990.4" y="12.3" text-anchor="middle">M15</text>
<text class="tf" x="1018.4" y="12.3" text-anchor="middle">M30</text>
<text class="tf" x="1046.4" y="12.3" text-anchor="middle">H1</text>
<text class="tf" x="1073.8" y="12.3" text-anchor="middle">H4</text>
<text class="tf" x="1102.4" y="12.3" text-anchor="middle">D1</text>
<text class="tf" x="1131" y="12.3" text-anchor="middle">W1</text>
<text class="tf" x="1158.2" y="12.3" text-anchor="middle">MN</text>
<line x1="1640.6" y1="10" x2="1636.2" y2="13.6" stroke="#1c50d0" stroke-width="2.4" stroke-linecap="round"/>
<circle cx="1643.7" cy="6.5" r="4" fill="#f8f8ff" stroke="#2858dc" stroke-width="1.2"/>
<path d="M1660.4,10.8 Q1660.4,6.6 1665.5,6.4 Q1671,6.4 1671,10.8 Q1671,15 1666,15.2 L1664.5,15.2 L1663.2,17.6 L1663,15 Q1660.4,14.2 1660.4,10.8 Z" fill="#e4e4ea" stroke="#a0a0a0" stroke-width="0.9"/>
<circle cx="1674.5" cy="6.4" r="8.2" fill="url(#grd)"/>
<text x="1673.4" y="11" text-anchor="middle" font-family="Liberation Serif, serif" font-size="12.5" font-weight="bold" fill="#fff">1</text>
</svg>
</body></html>
